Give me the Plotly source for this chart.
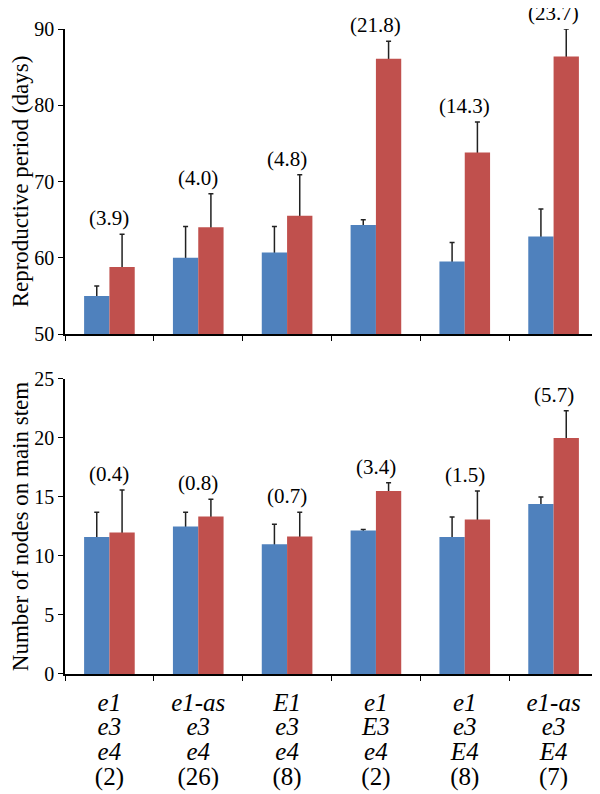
import plotly.graph_objects as go
from plotly.subplots import make_subplots

# genotype groups (italic allele lines + number of lines)
genotypes = [
    ["e1", "e3", "e4", "(2)"],
    ["e1-as", "e3", "e4", "(26)"],
    ["E1", "e3", "e4", "(8)"],
    ["e1", "E3", "e4", "(2)"],
    ["e1", "e3", "E4", "(8)"],
    ["e1-as", "e3", "E4", "(7)"],
]
categories = ["g%d" % i for i in range(len(genotypes))]

# reproductive period (days)
repro_ticks = [50, 60, 70, 80, 90]
repro_blue = [55.0, 60.0, 60.7, 64.3, 59.5, 62.8]
repro_blue_err = [1.3, 4.1, 3.4, 0.7, 2.5, 3.6]
repro_red = [58.8, 64.0, 65.5, 86.1, 73.8, 86.4]
repro_red_err = [4.3, 4.4, 5.4, 2.3, 4.0, 3.6]
repro_diff = ["(3.9)", "(4.0)", "(4.8)", "(21.8)", "(14.3)", "(23.7)"]

# number of nodes on main stem
nodes_ticks = [0, 5, 10, 15, 20, 25]
nodes_blue = [11.6, 12.5, 11.0, 12.15, 11.6, 14.4]
nodes_blue_err = [2.1, 1.2, 1.7, 0.1, 1.7, 0.6]
nodes_red = [12.0, 13.35, 11.65, 15.5, 13.1, 20.0]
nodes_red_err = [3.6, 1.45, 2.05, 0.7, 2.4, 2.3]
nodes_diff = ["(0.4)", "(0.8)", "(0.7)", "(3.4)", "(1.5)", "(5.7)"]

BLUE = "#4F81BD"
RED = "#C0504D"
SERIF = "Liberation Serif"


def serif(text, size=None):
    style = "font-family:Liberation Serif"
    if size:
        style += ";font-size:%dpx" % size
    return '<span style="%s">%s</span>' % (style, text)


def tick_text(lines):
    parts = [serif("<i>%s</i>" % s, 25) for s in lines[:3]] + [serif(lines[3], 25)]
    return "<br>".join(parts)


fig = make_subplots(rows=2, cols=1, vertical_spacing=0.06)

panels = [
    (1, repro_blue, repro_blue_err, repro_red, repro_red_err, repro_diff),
    (2, nodes_blue, nodes_blue_err, nodes_red, nodes_red_err, nodes_diff),
]
for row, b, be, r, re_, diff in panels:
    for grp, vals, errs, color in (("b", b, be, BLUE), ("r", r, re_, RED)):
        # error bars first; the lower half is hidden by the bar drawn next
        fig.add_trace(go.Bar(x=categories, y=vals, offsetgroup=grp,
                             marker=dict(color=color, opacity=0),
                             error_y=dict(type="data", array=errs, color="#222222",
                                          thickness=1.5, width=2.5),
                             showlegend=False, hoverinfo="skip"), row=row, col=1)
        fig.add_trace(go.Bar(x=categories, y=vals, offsetgroup=grp,
                             marker=dict(color=color, line_width=0),
                             showlegend=False), row=row, col=1)
    for c, v, e, t in zip(categories, r, re_, diff):
        fig.add_annotation(x=c, y=v + e, text=serif(t), showarrow=False,
                           yanchor="bottom", yshift=2,
                           font=dict(family=SERIF, size=21, color="black"),
                           row=row, col=1)

fig.update_xaxes(showline=True, linecolor="black", linewidth=1.5,
                 ticks="outside", ticklen=5, tickwidth=1.2, tickcolor="black",
                 showgrid=False, zeroline=False, type="category",
                 tickson="boundaries", domain=[0, 1], automargin=False,
                 tickfont=dict(family=SERIF, size=19, color="black"))
fig.update_yaxes(showline=True, linecolor="black", linewidth=1.5,
                 ticks="outside", ticklen=5, tickwidth=1.2, tickcolor="black",
                 showgrid=False, zeroline=False, automargin=False,
                 tickfont=dict(family=SERIF, size=20, color="black"))

fig.update_xaxes(showticklabels=False, row=1, col=1)
fig.update_xaxes(tickvals=categories, ticktext=[tick_text(g) for g in genotypes],
                 ticklabelstandoff=12, row=2, col=1)
fig.update_yaxes(range=[50, 90], tickvals=repro_ticks,
                 ticktext=[serif(str(t)) for t in repro_ticks],
                 domain=[0.5271, 1], row=1, col=1,
                 title_text=serif("Reproductive period (days)"), title_standoff=12,
                 title_font=dict(family=SERIF, size=23, color="black"))
fig.update_yaxes(range=[0, 25], tickvals=nodes_ticks,
                 ticktext=[serif(str(t)) for t in nodes_ticks],
                 domain=[0, 0.4574], row=2, col=1,
                 title_text=serif("Number of nodes on main stem"), title_standoff=12,
                 title_font=dict(family=SERIF, size=23, color="black"))

# the page body adds an 8px margin, so the figure is 8px smaller on each axis
fig.update_layout(
    template="none",
    width=592, height=786,
    margin=dict(l=57, r=2, t=21, b=120, autoexpand=False),
    barmode="group", bargap=0.43, bargroupgap=0,
    font=dict(family=SERIF, size=20, color="black"),
)

fig.write_html("out.html")
